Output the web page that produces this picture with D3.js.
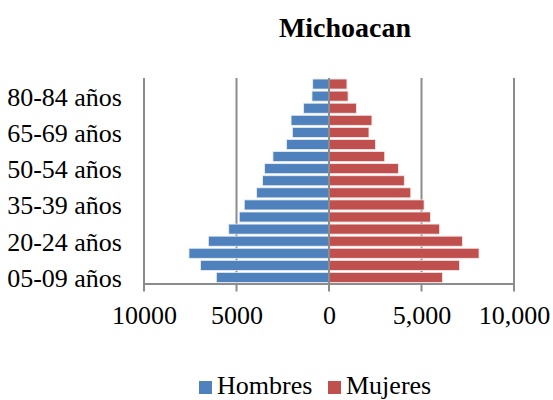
<!DOCTYPE html>
<html>
<head>
<meta charset="utf-8">
<script src="https://cdn.jsdelivr.net/npm/d3@7"></script>
<style>
  body { margin: 0; background: #fff; }
</style>
</head>
<body>
<div id="chart"></div>
<script>
// age groups, bottom to top
const ageGroups = ["05-09 años", "10-14 años", "15-19 años", "20-24 años", "25-29 años",
    "30-34 años", "35-39 años", "40-44 años", "45-49 años", "50-54 años", "55-59 años",
    "60-64 años", "65-69 años", "70-74 años", "75-79 años", "80-84 años", "85-89 años"];
const hombres = [6090, 6940, 7570, 6520, 5420, 4850, 4580, 3910, 3590, 3480, 3030,
    2290, 1980, 2050, 1370, 920, 880];
const mujeres = [6130, 7050, 8110, 7210, 5980, 5480, 5140, 4420, 4070, 3750, 3010,
    2510, 2160, 2320, 1480, 1030, 970];
const xTicks = [-10000, -5000, 0, 5000, 10000];
const xTickLabels = ["10000", "5000", "0", "5,000", "10,000"];
const seriesNames = ["Hombres", "Mujeres"];
const colors = ["#4F81BD", "#C0504D"];

const FONT = "Liberation Serif";
const width = 553, height = 400;
const margin = { top: 78, left: 144, right: 39, bottom: 116.5 };

const svg = d3.select("#chart").append("svg")
    .attr("width", width)
    .attr("height", height);

const x = d3.scaleLinear()
    .domain([-10000, 10000])
    .range([margin.left, width - margin.right]);

const y = d3.scaleBand()
    .domain(ageGroups.slice().reverse())
    .range([margin.top, height - margin.bottom])
    .paddingInner(0.17)
    .paddingOuter(0.085);

const gridColor = "#8c8c8c";

// gridlines (with ticks below axis)
svg.append("g")
    .selectAll("line")
    .data(xTicks.filter(d => d !== 0))
    .enter().append("line")
    .attr("x1", d => x(d))
    .attr("x2", d => x(d))
    .attr("y1", margin.top)
    .attr("y2", height - margin.bottom + 8)
    .attr("stroke", gridColor)
    .attr("stroke-width", 2);

// bars
svg.append("g")
    .selectAll("rect")
    .data(ageGroups)
    .enter().append("rect")
    .attr("x", (d, i) => x(-hombres[i]))
    .attr("y", d => y(d))
    .attr("width", (d, i) => x(0) - x(-hombres[i]))
    .attr("height", y.bandwidth())
    .attr("fill", colors[0])
    .attr("stroke", "#e8eef6")
    .attr("stroke-width", 0.8);

svg.append("g")
    .selectAll("rect")
    .data(ageGroups)
    .enter().append("rect")
    .attr("x", x(0))
    .attr("y", d => y(d))
    .attr("width", (d, i) => x(mujeres[i]) - x(0))
    .attr("height", y.bandwidth())
    .attr("fill", colors[1])
    .attr("stroke", "#f6e8e8")
    .attr("stroke-width", 0.8);

// zero line
svg.append("line")
    .attr("x1", x(0)).attr("x2", x(0))
    .attr("y1", margin.top)
    .attr("y2", height - margin.bottom + 8)
    .attr("stroke", gridColor)
    .attr("stroke-width", 2);

// x axis
const xAxis = d3.axisBottom(x)
    .tickValues(xTicks)
    .tickSize(0)
    .tickPadding(22)
    .tickFormat((d, i) => xTickLabels[i]);

const gx = svg.append("g")
    .attr("transform", `translate(0,${height - margin.bottom})`)
    .call(xAxis)
    .attr("font-family", FONT)
    .attr("font-size", 26);
gx.select(".domain").attr("stroke", gridColor).attr("stroke-width", 2);
gx.selectAll("text").attr("fill", "#000");

// y axis labels, every third category
const yAxis = d3.axisLeft(y)
    .tickValues(ageGroups.filter((d, i) => i % 3 === 0))
    .tickSize(0)
    .tickPadding(22);

const gy = svg.append("g")
    .attr("transform", `translate(${margin.left},0)`)
    .call(yAxis)
    .attr("font-family", FONT)
    .attr("font-size", 26);
gy.select(".domain").remove();
gy.selectAll("text").attr("fill", "#000").attr("dy", "0.36em");

// title
svg.append("text")
    .attr("x", 345)
    .attr("y", 37)
    .attr("text-anchor", "middle")
    .attr("font-family", FONT)
    .attr("font-size", 28)
    .attr("font-weight", "bold")
    .text("Michoacan");

// legend
const legend = svg.append("g")
    .attr("font-family", FONT)
    .attr("font-size", 26);
const legendX = [199, 328];
seriesNames.forEach((name, i) => {
    legend.append("rect")
        .attr("x", legendX[i])
        .attr("y", 381)
        .attr("width", 13)
        .attr("height", 13)
        .attr("fill", colors[i]);
    legend.append("text")
        .attr("x", legendX[i] + 18)
        .attr("y", 393.5)
        .text(name);
});
</script>
</body>
</html>
